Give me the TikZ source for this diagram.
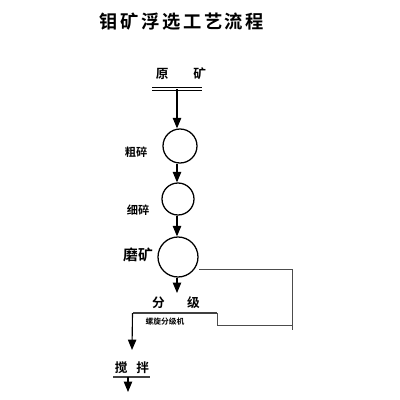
\documentclass[tikz,border=0pt]{standalone}
\usepackage{fontspec}
\newfontfamily\cjk{Noto Sans CJK SC Bold}
\newfontfamily\cjkb[LetterSpace=14]{Noto Sans CJK SC Bold}
\usetikzlibrary{arrows.meta}
\begin{document}
\begin{tikzpicture}[x=0.25mm,y=-0.25mm,
  circ/.style={draw, circle, line width=0.9pt, inner sep=0pt},
  flow/.style={line width=0.8pt, -{Triangle[length=2.6mm,width=2.1mm]}},
  ret/.style={line width=0.6pt, draw=black!70},
  lbl/.style={font=\cjk\fontsize{8}{8}\selectfont, inner sep=0pt},
  bar/.style={line width=1.6pt, draw=black!75}]
\useasboundingbox (0,0) rectangle (400,400);
\fill[white] (0,0) rectangle (400,400);
% title
\node[font=\cjkb\fontsize{13}{13}\selectfont, inner sep=0pt] (title) at (182,22) {钼矿浮选工艺流程};
% raw ore
\node[lbl, font=\cjk\fontsize{9}{9}\selectfont] (raw) at (181,74) {原\hspace{6.2mm}矿};
\coordinate (rawL) at (152,89);
\coordinate (rawR) at (202,89);
\coordinate (rawM) at (177,89);
\draw[line width=0.8pt] ([yshift=0.45mm]rawL) -- ([yshift=0.45mm]rawR);
\draw[line width=0.8pt] ([yshift=-0.45mm]rawL) -- ([yshift=-0.45mm]rawR);
% circles
\node[circ, minimum size=8.5mm] (c1) at (180,146) {};
\node[circ, minimum size=8mm] (c2) at (178,199) {};
\node[circ, minimum size=10mm] (c3) at (178,257) {};
\node[lbl] (l1) at (136,152) {粗碎};
\node[lbl] (l2) at (138,210) {细碎};
\node[lbl, font=\cjk\fontsize{10.5}{10.5}\selectfont] (l3) at (138,255) {磨矿};
\draw[flow] (rawM) -- (rawM |- c1.north);
\draw[flow] (c1.south -| rawM) -- (rawM |- c2.north);
\draw[flow] (c2.south -| rawM) -- (rawM |- c3.north);
% classifier
\coordinate (feed) at (177,293);
\draw[flow] (c3.south -| feed) -- (feed);
\node[lbl, font=\cjk\fontsize{9}{9}\selectfont] (cls) at (176,303) {分\hspace{5.6mm}级};
\coordinate (barL) at (133,313);
\coordinate (barR) at (217,313);
\draw[bar] (barL) -- (barR);
\node[lbl, font=\cjk\fontsize{5.5}{5.5}\selectfont] (spiral) at (165,322) {螺旋分级机};
% return line
\coordinate (r1) at (217,325);
\coordinate (r2) at (292,325);
\coordinate (r3) at (292,269);
\draw[ret] (barR) -- (r1) -- (r2) -- ([yshift=-1.3mm]r2) ;
\draw[ret] (r2) -- (r3) -- (c3.east |- r3);
% to agitation
\coordinate (agit) at (132,350);
\draw[flow] (barL) ++(-0.5,0) -- (agit);
\node[lbl, font=\cjk\fontsize{9}{9}\selectfont] (stir) at (132,368) {搅\hspace{2.2mm}拌};
\coordinate (sbL) at (113,377);
\coordinate (sbR) at (150,377);
\draw[bar, line width=1.3pt] (sbL) -- (sbR);
\coordinate (sbo) at (128,392);
\draw[flow] (sbL -| sbo) -- (sbo);
\end{tikzpicture}
\end{document}
